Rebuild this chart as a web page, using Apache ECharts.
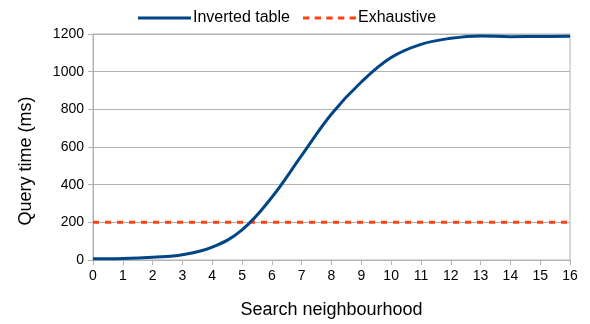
<!DOCTYPE html>
<html>
<head>
<meta charset="utf-8">
<script src="https://cdn.jsdelivr.net/npm/echarts@6/dist/echarts.min.js"></script>
<style>
html,body{margin:0;padding:0;background:#fff;}
#c{width:590px;height:324px;}
</style>
</head>
<body>
<div id="c"></div>
<script>
const xValues = [0,1,2,3,4,5,6,7,8,9,10,11,12,13,14,15,16];
const invertedTable = [6,8,15,28,68,160,333,555,775,945,1075,1145,1177,1190,1186,1187,1188];
const exhaustive = [200,200,200,200,200,200,200,200,200,200,200,200,200,200,200,200,200];
const seriesNames = ['Inverted table','Exhaustive'];
const xName = 'Search neighbourhood';
const yName = 'Query time (ms)';

const font = 'Liberation Sans, Arial, sans-serif';
const gray = '#b3b3b3';
const chart = echarts.init(document.getElementById('c'), null, {renderer:'canvas'});
chart.setOption({
  animation:false,
  backgroundColor:'#fff',
  textStyle:{fontFamily:font},
  legend:{
    left:133, top:5,
    itemWidth:53, itemHeight:14, itemGap:13,
    textStyle:{fontSize:16,color:'#000',fontFamily:font, padding:[0,0,0,-3]},
    data:[
      {name:seriesNames[0], icon:'path://M0,0 L53,0 L53,3 L0,3 Z', itemStyle:{color:'#004586'}},
      {name:seriesNames[1], icon:'path://M0,0h6v3h-6zM11,0h6v3h-6zM22,0h6v3h-6zM33,0h6v3h-6zM44,0h6v3h-6z', itemStyle:{color:'#ff420e'}}
    ]
  },
  grid:{left:93,right:20,top:34,bottom:62,show:true,borderColor:gray,borderWidth:1,backgroundColor:'transparent'},
  xAxis:{
    type:'value',min:0,max:16,interval:1,
    name:xName,nameLocation:'middle',nameGap:41,
    nameTextStyle:{fontSize:18,color:'#000',fontFamily:font},
    axisLine:{show:true,lineStyle:{color:gray,width:1}},
    axisTick:{show:true,length:5,lineStyle:{color:gray}},
    axisLabel:{fontSize:14,color:'#000',margin:9,fontFamily:font},
    splitLine:{show:false}
  },
  yAxis:{
    type:'value',min:0,max:1200,interval:200,
    name:yName,nameLocation:'middle',nameGap:58,nameRotate:90,
    nameTextStyle:{fontSize:18,color:'#000',fontFamily:font,padding:[0,28,0,0]},
    axisLine:{show:true,lineStyle:{color:gray,width:1}},
    axisTick:{show:true,length:5,lineStyle:{color:gray}},
    axisLabel:{fontSize:14,color:'#000',margin:9,fontFamily:font,formatter:function(v){return String(v);}},
    splitLine:{show:true,lineStyle:{color:gray,width:1}}
  },
  series:[
    {
      name:seriesNames[0],type:'line',smooth:0.4,symbol:'none',
      data:xValues.map((x,i)=>[x,invertedTable[i]]),
      lineStyle:{color:'#004586',width:3},itemStyle:{color:'#004586'},
      z:3
    },
    {
      name:seriesNames[1],type:'line',symbol:'none',
      data:xValues.map((x,i)=>[x,exhaustive[i]]),
      lineStyle:{color:'#ff420e',width:3,type:[6,6]},itemStyle:{color:'#ff420e'},
      z:2
    }
  ]
});
</script>
</body>
</html>
